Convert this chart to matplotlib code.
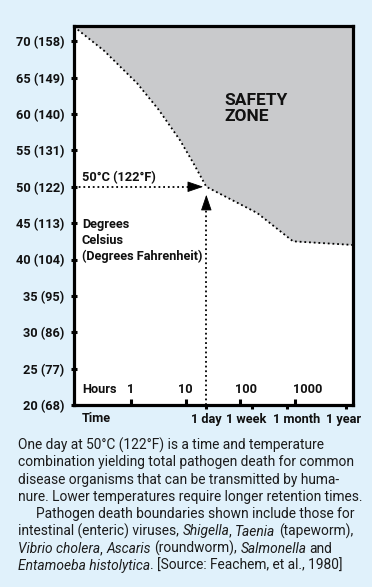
import matplotlib
matplotlib.use('Agg')
import matplotlib.pyplot as plt
from matplotlib.ticker import FixedLocator, NullFormatter

# boundary of pathogen death (hours, degrees C)
boundary_hours = [0.09, 0.32, 1.3, 3.2, 7.9, 14, 24, 205, 935, 11700]
boundary_temp = [72.0, 68.7, 64.2, 60.6, 56.4, 53.2, 50.0, 46.4, 42.5, 42.0]

y_ticks = [20, 25, 30, 35, 40, 45, 50, 55, 60, 65, 70]
y_labels = ['20 (68)', '25 (77)', '30 (86)', '35 (95)', '40 (104)', '45 (113)',
            '50 (122)', '55 (131)', '60 (140)', '65 (149)', '70 (158)']

hour_ticks = [1, 10, 100, 1000]
hour_label_pos = [1, 10, 130, 1700]
hour_labels = ['1', '10', '100', '1000']

time_ticks = [24, 168, 720, 8760]
time_label_pos = [23.8, 130, 1110, 7760]
time_labels = ['1 day', '1 week', '1 month', '1 year']

caption = [
    [('One day at 50°C (122°F) is a time and temperature', False)],
    [('combination yielding total pathogen death for common', False)],
    [('disease organisms that can be transmitted by huma-', False)],
    [('nure. Lower temperatures require longer retention times.', False)],
    [('Pathogen death boundaries shown include those for', False)],
    [('intestinal (enteric) viruses,', False), ('Shigella', True), (',', False),
     ('Taenia', True), ('(tapeworm),', False)],
    [('Vibrio cholera', True), (',', False), ('Ascaris', True), ('(roundworm),', False),
     ('Salmonella', True), ('and', False)],
    [('Entamoeba histolytica', True), ('. [Source: Feachem, et al., 1980]', False)],
]

bg = '#e0f1fb'
W, H = 372, 587
fig = plt.figure(figsize=(W / 100, H / 100), dpi=100, facecolor=bg)
ax = fig.add_axes([74 / W, 1 - 405 / H, 279 / W, 379 / H])
ax.set_facecolor('white')

ymax = 72.1
ax.set_xscale('log')
ax.set_xlim(10 ** -1.046, 10 ** 4.07)
ax.set_ylim(20, ymax)

dots = (0, (1, 1.6))
ax.fill_between(boundary_hours, boundary_temp, ymax, color='#c9cacc', lw=0)
ax.plot(boundary_hours, boundary_temp, color='black', lw=1.3, ls=dots)

# dotted guides with arrowheads at 1 day / 50 C
head = '-|>,head_length=0.5,head_width=0.17'
ax.plot([10 ** -1.046, 15], [50, 50], color='black', lw=1.3, ls=dots)
ax.plot([24, 24], [20, 47.5], color='black', lw=1.3, ls=dots)
ax.annotate('', xy=(21, 50), xytext=(12.6, 50),
            arrowprops=dict(arrowstyle=head, mutation_scale=20, color='black', lw=0.6,
                            shrinkA=0, shrinkB=0))
ax.annotate('', xy=(24, 48.9), xytext=(24, 46.9),
            arrowprops=dict(arrowstyle=head, mutation_scale=20, color='black', lw=0.6,
                            shrinkA=0, shrinkB=0))

for s in ax.spines.values():
    s.set_linewidth(2.3)

fs = 9.2
bold = dict(family='Roboto', weight='bold', color='#111111')
ax.set_yticks(y_ticks)
ax.set_yticklabels(y_labels, fontsize=fs, **bold)
ax.tick_params(axis='y', direction='inout', length=4, width=2.2, pad=5)

ax.xaxis.set_major_locator(FixedLocator(time_ticks))
ax.xaxis.set_major_formatter(NullFormatter())
ax.xaxis.set_minor_locator(FixedLocator(hour_ticks))
ax.xaxis.set_minor_formatter(NullFormatter())
ax.tick_params(axis='x', which='major', direction='out', length=3, width=2.2)
ax.tick_params(axis='x', which='minor', direction='in', length=4, width=2.2)

xt = ax.get_xaxis_transform()
for xp, lab in zip(time_label_pos, time_labels):
    ax.text(xp, -0.038, lab, transform=xt, ha='center', va='center', fontsize=fs, **bold)
for xp, lab in zip(hour_label_pos, hour_labels):
    ax.text(xp, 22.1, lab, ha='center', va='center', fontsize=fs, **bold)
ax.text(0.028, 0.04, 'Hours', transform=ax.transAxes, ha='left', va='center',
        fontsize=fs, **bold)
fig.text(82 / W, 1 - 419 / H, 'Time', ha='left', va='center', fontsize=fs, **bold)

ax.text(0.028, 50.3, '50°C (122°F)', ha='left', va='bottom', fontsize=fs,
        transform=ax.get_yaxis_transform(), **bold)
ax.text(0.028, 0.493, 'Degrees\nCelsius\n(Degrees Fahrenheit)', transform=ax.transAxes,
        ha='left', va='top', fontsize=fs, linespacing=1.3, **bold)
ax.text(0.54, 0.782, 'SAFETY\nZONE', transform=ax.transAxes, ha='left', va='center',
        fontsize=12.5, linespacing=1.05, **bold)

# caption with mixed roman / italic runs
renderer = fig.canvas.get_renderer()
cap_kw = dict(family='Roboto', fontsize=9.9, color='#1c1c1c', va='center', ha='left')


def width_of(txt, style):
    t = fig.text(0, 0, txt, style=style, **cap_kw)
    w = t.get_window_extent(renderer).width
    t.remove()
    return w


space_w = width_of('a a', 'normal') - width_of('aa', 'normal')

y0, dy = 445, 17.3
for i, line in enumerate(caption):
    x = 18 if i != 4 else 36
    y = 1 - (y0 + i * dy) / H
    for j, (txt, ital) in enumerate(line):
        if j > 0 and not txt.startswith(',') and not txt.startswith('.'):
            x += space_w
        st = 'italic' if ital else 'normal'
        t = fig.text(x / W, y, txt, style=st, **cap_kw)
        x += t.get_window_extent(renderer).width

fig.savefig('out.png', dpi=100, facecolor=bg)
